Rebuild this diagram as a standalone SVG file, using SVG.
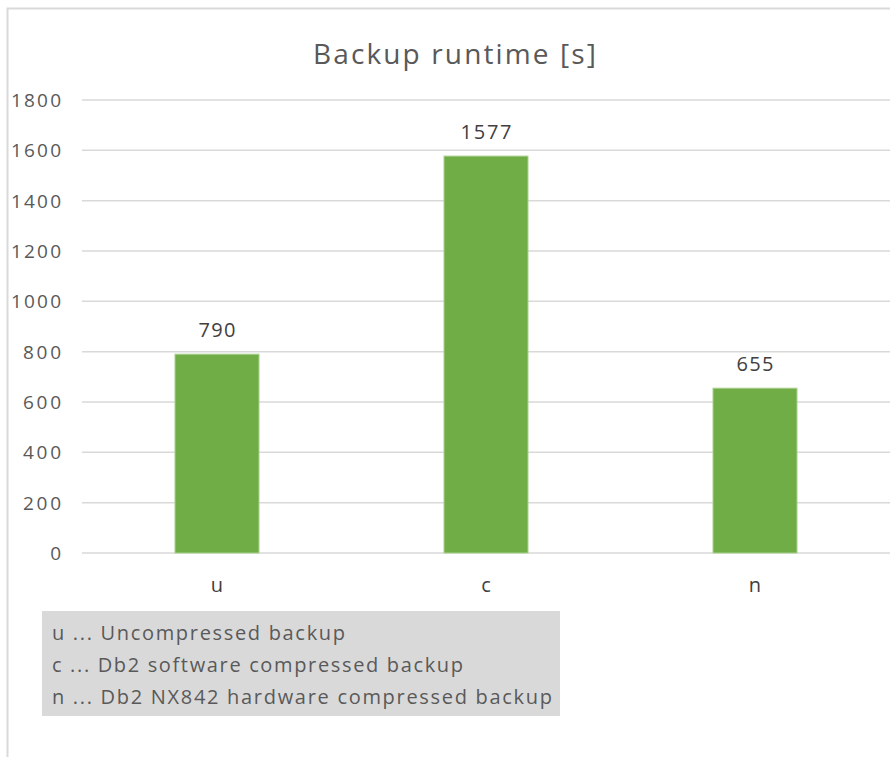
<svg xmlns="http://www.w3.org/2000/svg" width="890" height="757" viewBox="0 0 890 757">
<style>
.grid{stroke:#d9d9d9;stroke-width:1.5}
.ax{font-family:"Open Sans","DejaVu Sans",sans-serif;font-size:19px;fill:#595959}
.lbl{font-family:"Open Sans","DejaVu Sans",sans-serif;font-size:20px;fill:#404040;text-anchor:middle}
.bar{fill:#70ad47;stroke:#a9d18e;stroke-width:1}
.leg{font-family:"Open Sans","DejaVu Sans",sans-serif;font-size:20px;fill:#595959}
</style>
<rect x="0" y="0" width="890" height="757" fill="#fff"/>
<path d="M7.5 757 V8.5 H890" fill="none" stroke="#d9d9d9" stroke-width="2"/>
<text x="313" y="64" textLength="283" lengthAdjust="spacing" font-family="'Open Sans','DejaVu Sans',sans-serif" font-size="28" fill="#595959">Backup runtime [s]</text>
<g id="grid">
<line class="grid" x1="82" y1="100" x2="890" y2="100"/>
<line class="grid" x1="82" y1="150.3" x2="890" y2="150.3"/>
<line class="grid" x1="82" y1="200.7" x2="890" y2="200.7"/>
<line class="grid" x1="82" y1="251" x2="890" y2="251"/>
<line class="grid" x1="82" y1="301.3" x2="890" y2="301.3"/>
<line class="grid" x1="82" y1="351.7" x2="890" y2="351.7"/>
<line class="grid" x1="82" y1="402" x2="890" y2="402"/>
<line class="grid" x1="82" y1="452.3" x2="890" y2="452.3"/>
<line class="grid" x1="82" y1="502.7" x2="890" y2="502.7"/>
<line class="grid" x1="82" y1="553" x2="890" y2="553"/>
</g>
<g id="yaxis" text-anchor="end">
<text class="ax" x="61" y="107" textLength="50">1800</text>
<text class="ax" x="61" y="157" textLength="50">1600</text>
<text class="ax" x="61" y="208" textLength="50">1400</text>
<text class="ax" x="61" y="258" textLength="50">1200</text>
<text class="ax" x="61" y="308" textLength="50">1000</text>
<text class="ax" x="61" y="359" textLength="38">800</text>
<text class="ax" x="61" y="409" textLength="38">600</text>
<text class="ax" x="61" y="459" textLength="38">400</text>
<text class="ax" x="61" y="510" textLength="38">200</text>
<text class="ax" x="61" y="560">0</text>
</g>
<g id="bar-u">
<rect class="bar" x="175" y="354.2" width="84" height="198.8"/>
<text class="lbl" x="217" y="337" textLength="37">790</text>
<text class="lbl" x="217" y="592">u</text>
</g>
<g id="bar-c">
<rect class="bar" x="444" y="156.1" width="84" height="396.9"/>
<text class="lbl" x="486" y="139" textLength="51">1577</text>
<text class="lbl" x="486" y="592">c</text>
</g>
<g id="bar-n">
<rect class="bar" x="713" y="388.2" width="84" height="164.8"/>
<text class="lbl" x="755" y="371" textLength="37">655</text>
<text class="lbl" x="755" y="592">n</text>
</g>
<g id="legend">
<rect x="42" y="611" width="518" height="105" fill="#d9d9d9"/>
<text class="leg" x="52" y="640" textLength="293" lengthAdjust="spacing">u ... Uncompressed backup</text>
<text class="leg" x="52" y="672" textLength="411" lengthAdjust="spacing">c ... Db2 software compressed backup</text>
<text class="leg" x="52" y="704" textLength="500" lengthAdjust="spacing">n ... Db2 NX842 hardware compressed backup</text>
</g>
</svg>
